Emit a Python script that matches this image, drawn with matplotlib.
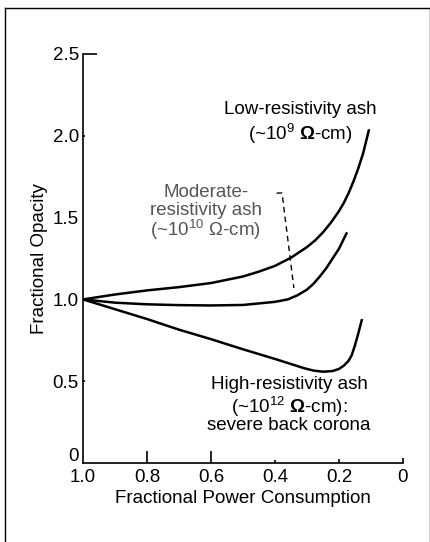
import matplotlib
matplotlib.use("Agg")
import matplotlib.pyplot as plt
from matplotlib.lines import Line2D
from matplotlib.transforms import ScaledTranslation

plt.rcParams["font.family"] = ["Liberation Sans", "DejaVu Sans"]
plt.rcParams["mathtext.fontset"] = "custom"
plt.rcParams["mathtext.rm"] = "Liberation Sans"
plt.rcParams["mathtext.it"] = "Liberation Sans"
plt.rcParams["mathtext.bf"] = "Liberation Sans:bold"

# fractional power consumption (x) vs fractional opacity (y)
low_x = [1.0, 0.9, 0.8, 0.7, 0.6, 0.5, 0.45, 0.4, 0.35, 0.3, 0.275, 0.25, 0.225, 0.2,
         0.185, 0.17, 0.155, 0.14, 0.125, 0.106]
low_y = [1.0, 1.03, 1.055, 1.075, 1.10, 1.14, 1.17, 1.205, 1.255, 1.32, 1.36, 1.41, 1.47, 1.54,
         1.59, 1.65, 1.72, 1.80, 1.89, 2.04]

mod_x = [1.0, 0.9, 0.8, 0.7, 0.6, 0.5, 0.4, 0.36, 0.33, 0.3, 0.28, 0.26, 0.24, 0.22, 0.2, 0.175]
mod_y = [1.0, 0.98, 0.97, 0.965, 0.963, 0.966, 0.985, 1.0, 1.025, 1.06, 1.095, 1.14, 1.19, 1.25, 1.31, 1.41]

high_x = [1.0, 0.9, 0.8, 0.7, 0.6, 0.5, 0.4, 0.35, 0.31, 0.28, 0.25, 0.22, 0.2, 0.185, 0.17,
          0.16, 0.15, 0.14, 0.128]
high_y = [1.0, 0.94, 0.88, 0.815, 0.757, 0.695, 0.636, 0.605, 0.58, 0.565, 0.558, 0.562, 0.575,
          0.595, 0.625, 0.66, 0.72, 0.79, 0.88]

x_ticks = [1.0, 0.8, 0.6, 0.4, 0.2, 0.0]
x_labels = ["1.0", "0.8", "0.6", "0.4", "0.2", "0"]
y_ticks = [0.0, 0.5, 1.0, 1.5, 2.0, 2.5]
y_labels = ["0", "0.5", "1.0", "1.5", "2.0", "2.5"]

# leader line from the moderate-resistivity label to its curve
leader_x = [0.395, 0.378, 0.341]
leader_y = [1.65, 1.65, 1.07]

fig = plt.figure(figsize=(4.31, 5.42), dpi=100)
ax = fig.add_axes([83 / 431, 79 / 542, 320 / 431, 409 / 542])

lw = 1.8
ax.plot(low_x, low_y, color="black", lw=lw, solid_capstyle="butt", solid_joinstyle="round")
ax.plot(mod_x, mod_y, color="black", lw=lw, solid_capstyle="butt", solid_joinstyle="round")
ax.plot(high_x, high_y, color="black", lw=lw, solid_capstyle="butt", solid_joinstyle="round")
ax.plot(leader_x, leader_y, color="black", lw=1.0, ls=(0, (4, 3)))

ax.set_xlim(1.0, 0.0)
ax.set_ylim(0.0, 2.5)
ax.spines["top"].set_visible(False)
ax.spines["right"].set_visible(False)
ax.spines["left"].set_linewidth(1.2)
ax.spines["bottom"].set_linewidth(1.2)

fs = 13.5
ax.set_xticks(x_ticks)
ax.set_xticklabels(x_labels, fontsize=fs)
ax.set_yticks(y_ticks)
ax.set_yticklabels(y_labels, fontsize=fs)
ax.tick_params(axis="x", direction="in", width=1.2, pad=4)
ax.tick_params(axis="y", direction="in", width=1.2, pad=3)

# individual tick lengths
for t, ln in zip(ax.xaxis.get_major_ticks(), [0, 8.5, 8.5, 2.5, 3, 3.5]):
    t.tick1line.set_markersize(ln)
for t, ln in zip(ax.yaxis.get_major_ticks(), [0, 1.5, 0, 0, 1.5, 10]):
    t.tick1line.set_markersize(ln)

# the y "0" sits just above the x axis
zero_lbl = ax.get_yticklabels()[0]
zero_lbl.set_transform(zero_lbl.get_transform() + ScaledTranslation(0, 6 / 72, fig.dpi_scale_trans))

ax.set_xlabel("Fractional Power Consumption", fontsize=fs, labelpad=3)
ax.set_ylabel("Fractional Opacity", fontsize=fs, labelpad=3)

ax.text(0.322, 2.160, "Low-resistivity ash", fontsize=fs, ha="center", va="center")
ax.text(0.322, 2.010, r"(~10$^{9}$ $\mathbf{\Omega}$-cm)", fontsize=fs, ha="center", va="center")

grey = "#555555"
ax.text(0.616, 1.655, "Moderate-", fontsize=fs, ha="center", va="center", color=grey)
ax.text(0.616, 1.545, "resistivity ash", fontsize=fs, ha="center", va="center", color=grey)
ax.text(0.616, 1.425, r"(~10$^{10}$ $\Omega$-cm)", fontsize=fs, ha="center", va="center", color=grey)

ax.text(0.356, 0.478, "High-resistivity ash", fontsize=fs, ha="center", va="center")
ax.text(0.356, 0.345, r"(~10$^{12}$ $\mathbf{\Omega}$-cm):", fontsize=fs, ha="center", va="center")
ax.text(0.356, 0.228, "severe back corona", fontsize=fs, ha="center", va="center")

# outer frame
W, H = 431, 542
for xs, ys in [([5, 5], [0, 534]), ([5, 430], [534, 534]), ([430, 430], [534, 0])]:
    fig.add_artist(Line2D([x / W for x in xs], [y / H for y in ys], color="black", lw=1.0,
                          transform=fig.transFigure))

fig.savefig("out.png", dpi=100)
